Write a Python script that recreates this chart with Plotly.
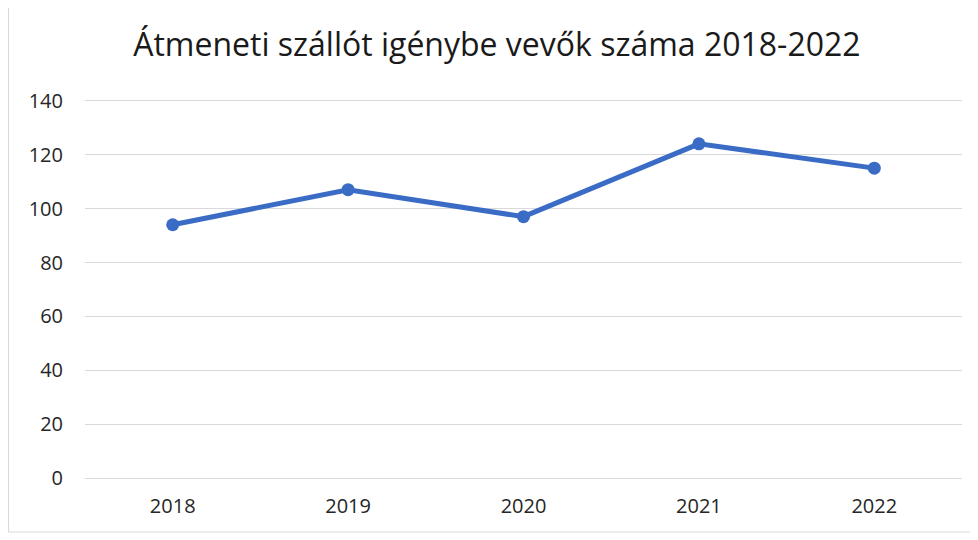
import plotly.graph_objects as go

years = ["2018", "2019", "2020", "2021", "2022"]
values = [94, 107, 97, 124, 115]
y_ticks = [0, 20, 40, 60, 80, 100, 120, 140]
title_text = "Átmeneti szállót igénybe vevők száma 2018-2022"

W, H = 970, 532
L, R, T, B = 77, 16, 90, 59
pw, ph = W - L - R, H - T - B

fig = go.Figure()
fig.add_trace(go.Scatter(
    x=years, y=values, mode="lines+markers",
    line=dict(color="#3A6CC6", width=5),
    marker=dict(color="#3A6CC6", size=13),
    showlegend=False,
))

fig.update_layout(
    width=W, height=H,
    paper_bgcolor="white", plot_bgcolor="white",
    margin=dict(l=L, r=R, t=T, b=B),
    title=dict(text=title_text, x=0.504, xanchor="center", y=0.930, yanchor="middle",
               font=dict(family="Open Sans, Noto Sans, sans-serif", size=32, color="#1a1a1a")),
    font=dict(family="Open Sans, Noto Sans, sans-serif", color="#262626"),
)
fig.update_xaxes(type="category", range=[-0.5, 4.5], showgrid=False, showline=False, zeroline=False,
                 tickfont=dict(size=20, color="#262626"), ticks="", ticklabelstandoff=11)
fig.update_yaxes(range=[-1, 141], tickvals=y_ticks, showgrid=True, gridcolor="#d9d9d9",
                 gridwidth=1, zeroline=False, showline=False,
                 tickfont=dict(size=20, color="#262626"), ticks="", ticklabelstandoff=21)

fig.add_shape(type="rect", xref="paper", yref="paper",
              x0=(0.5 - L) / pw, x1=(963 - L) / pw,
              y0=(H - B - 524) / ph, y1=(H - B + 5) / ph,
              line=dict(color="#d9d9d9", width=1), fillcolor="rgba(0,0,0,0)")

fig.write_html("out.html")
